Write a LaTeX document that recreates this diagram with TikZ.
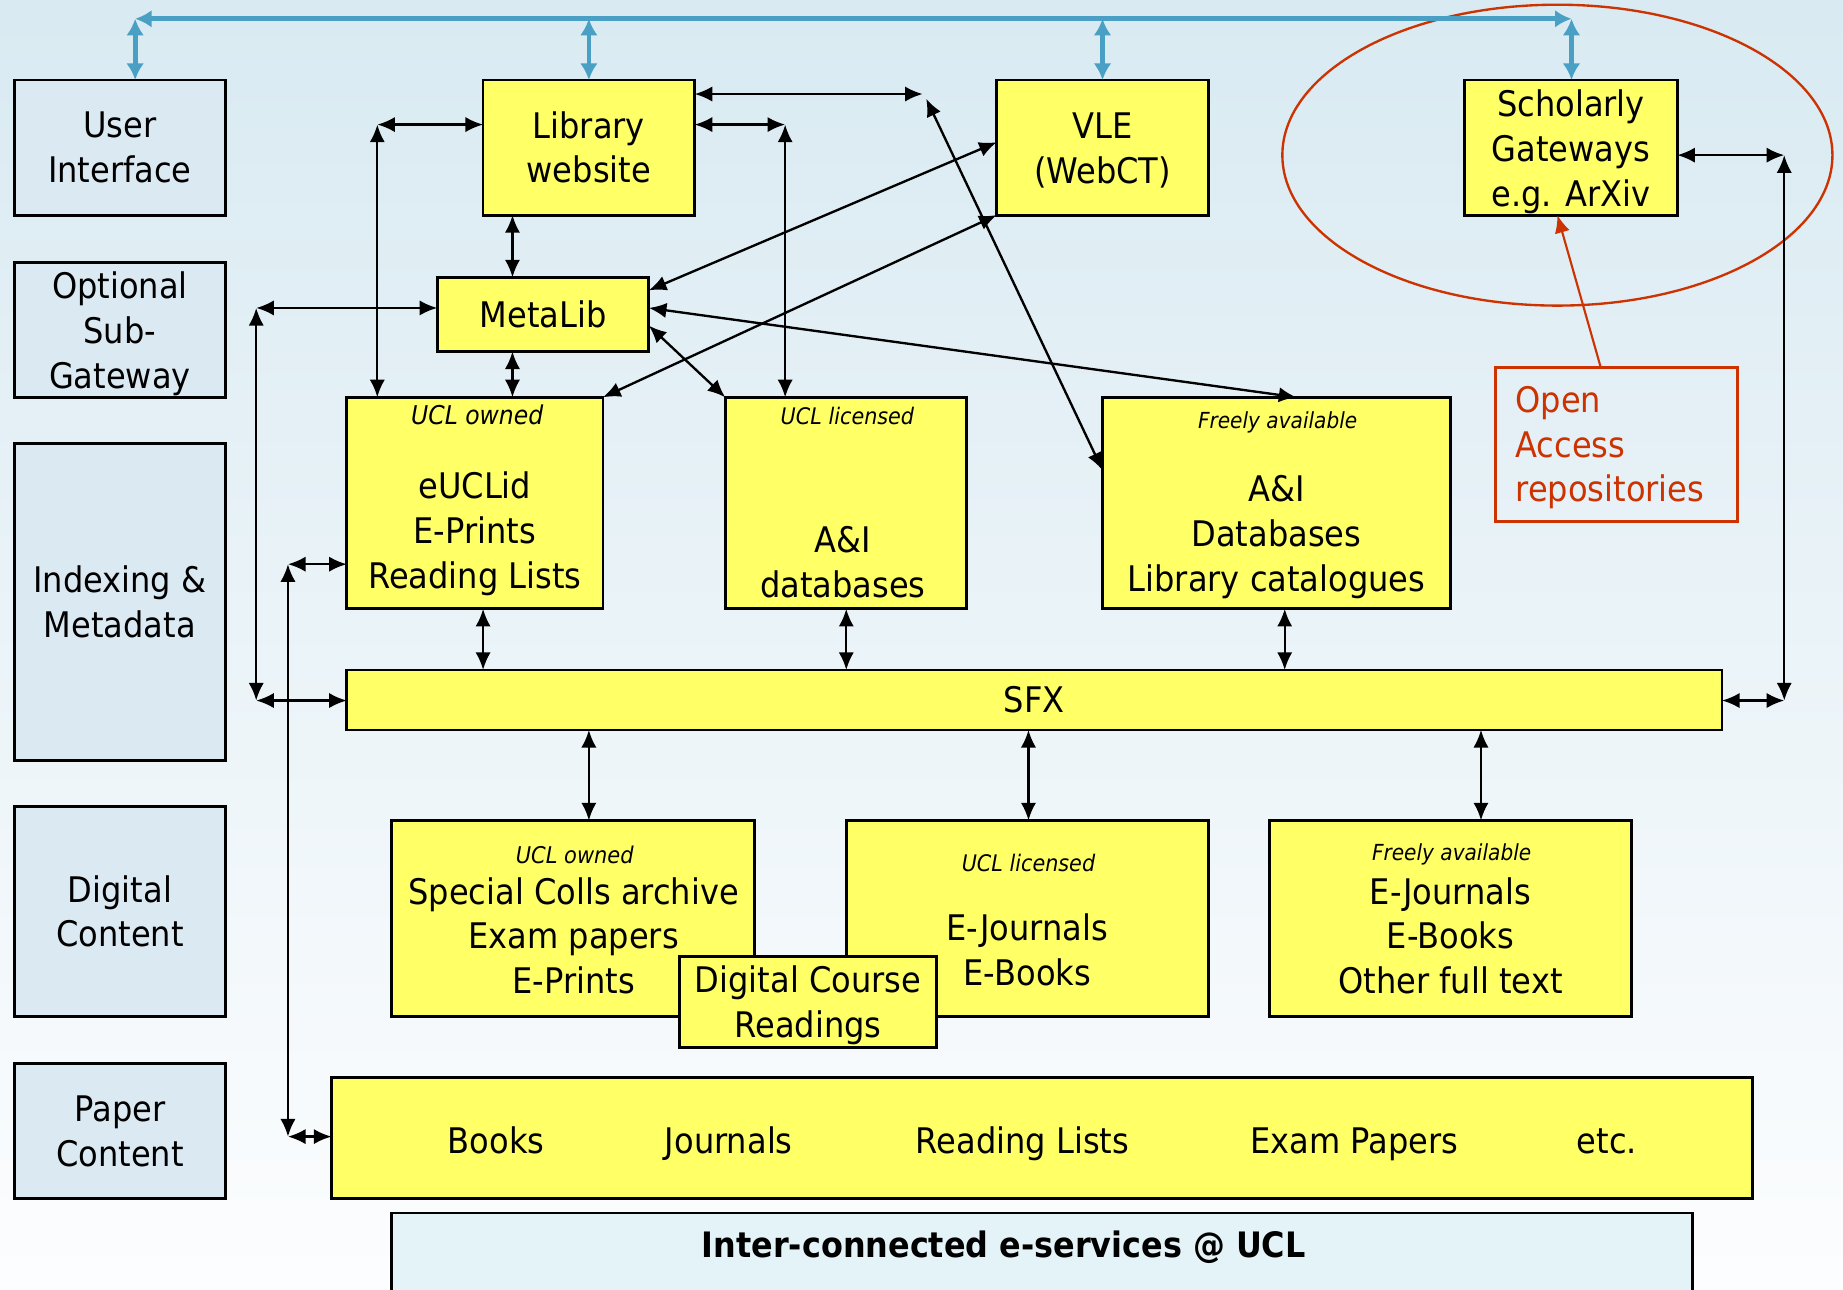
\documentclass[tikz,border=0pt]{standalone}
\usepackage{fontspec}
\setmainfont[FakeStretch=0.91]{DejaVu Sans}
\usetikzlibrary{arrows.meta,calc}
\definecolor{yel}{RGB}{255,255,102}
\definecolor{lblue}{RGB}{219,234,242}
\definecolor{tblue}{RGB}{228,243,248}
\definecolor{bgtop}{RGB}{217,234,242}
\definecolor{bgbot}{RGB}{252,253,254}
\definecolor{lineblue}{RGB}{74,160,196}
\definecolor{oared}{RGB}{204,51,0}
\newcommand\bigf{\fontsize{15pt}{19pt}\selectfont}
\newcommand\smallf{\fontsize{10pt}{12pt}\selectfont\itshape}
\newcommand\boldf{\fontsize{14.9pt}{17pt}\selectfont\bfseries}
\tikzset{
 box/.style={draw=black, line width=1.2pt, inner sep=0pt, outer sep=0pt, align=center, font=\bigf},
 lbox/.style={box, fill=lblue},
 ybox/.style={box, fill=yel},
 txt/.style={inner sep=0pt, align=center, font=\bigf},
 itl/.style={inner sep=0pt, font=\smallf},
 dar/.style={{Latex[length=7.5pt,width=6.5pt]}-{Latex[length=7.5pt,width=6.5pt]}, line width=1pt, draw=black},
 bar/.style={{Latex[length=7pt,width=7.5pt]}-{Latex[length=7pt,width=7.5pt]}, line width=2pt, draw=lineblue},
 rar/.style={-{Latex[length=7.5pt,width=6.5pt]}, line width=0.9pt, draw=oared},
}
\begin{document}
\begin{tikzpicture}[x=0.5pt,y=-0.5pt]
\useasboundingbox (0,0) rectangle (1568,1097);
\shade[top color=bgtop, bottom color=bgbot] (0,0) rectangle (1568,1097);

% left column
\node[lbox, minimum width=90pt, minimum height=57.5pt] (ui) at (102,125.5) {User\\Interface};
\node[lbox, minimum width=90pt, minimum height=57.5pt] (osg) at (102,280.5) {};
\node[txt] (osgt) at (102,284) {Optional\\Sub-\\Gateway};
\node[lbox, minimum width=90pt, minimum height=135pt] (idx) at (102,512) {Indexing \&\\Metadata};
\node[lbox, minimum width=90pt, minimum height=89.5pt] (dig) at (102,775.5) {Digital\\Content};
\node[lbox, minimum width=90pt, minimum height=57.5pt] (pap) at (102,962.5) {Paper\\Content};

% top row
\node[ybox, minimum width=90pt, minimum height=57.5pt] (lib) at (501,125.5) {Library\\website};
\node[ybox, minimum width=90pt, minimum height=57.5pt] (vle) at (938,125.5) {};
\node[txt] (vlet) at (938,128) {VLE\\(WebCT)};
\node[ybox, minimum width=90.5pt, minimum height=57.5pt] (sch) at (1336.5,125.5) {};
\node[txt] (scht) at (1336.5,129) {Scholarly\\Gateways\\e.g. ArXiv};
\node[ybox, minimum width=90pt, minimum height=31.5pt] (meta) at (462,267.5) {MetaLib};

% indexing row
\node[ybox, minimum width=109pt, minimum height=90pt] (own) at (404,428) {};
\node[itl, font=\fontsize{11pt}{12pt}\selectfont\itshape] (ownh) at (406,353) {UCL owned};
\node[txt] (ownt) at (404,454) {eUCLid\\E-Prints\\Reading Lists};
\node[ybox, minimum width=102.5pt, minimum height=90pt] (lic) at (719.5,428) {};
\node[itl, font=\fontsize{9.7pt}{12pt}\selectfont\itshape] (lich) at (721,354) {UCL licensed};
\node[txt] (lict) at (717,478) {A\&I\\databases};
\node[ybox, minimum width=148pt, minimum height=90pt] (free) at (1086,428) {};
\node[itl, font=\fontsize{9.4pt}{12pt}\selectfont\itshape] (freeh) at (1087,359) {Freely available};
\node[txt] (freet) at (1086,457) {A\&I\\Databases\\Library catalogues};

% open access
\draw[oared, line width=1pt] (1325,132) ellipse [x radius=117pt, y radius=64pt];
\node[draw=oared, line width=1.2pt, inner sep=0pt, outer sep=0pt, minimum width=103pt, minimum height=65.5pt] (oa) at (1375,378.5) {};
\node[txt, anchor=west, align=left, text=oared] (oat) at (1289,381) {Open\\Access\\repositories};

% SFX
\node[ybox, minimum width=585pt, minimum height=25.5pt] (sfx) at (880,595.5) {SFX};

% digital row
\node[ybox, minimum width=154.5pt, minimum height=83.5pt] (sc) at (487.5,781.5) {};
\node[itl, font=\fontsize{9.8pt}{12pt}\selectfont\itshape] (sch2) at (489,727) {UCL owned};
\node[txt] (sct) at (488,796) {Special Colls archive\\Exam papers\\E-Prints};
\node[ybox, minimum width=154pt, minimum height=83.5pt] (ej) at (874,781.5) {};
\node[itl, font=\fontsize{9.7pt}{12pt}\selectfont\itshape] (ejh) at (875,734) {UCL licensed};
\node[txt] (ejt) at (874,808) {E-Journals\\E-Books};
\node[ybox, minimum width=154pt, minimum height=83.5pt] (fe) at (1234,781.5) {};
\node[itl, font=\fontsize{9.4pt}{12pt}\selectfont\itshape] (feh) at (1235,727) {Freely available};
\node[txt] (fet) at (1234,796) {E-Journals\\E-Books\\Other full text};
\node[ybox, minimum width=109.5pt, minimum height=38.5pt] (dcr) at (687.5,852.5) {};
\node[txt] (dcrt) at (687.5,855) {Digital Course\\Readings};

% paper row
\node[ybox, minimum width=604.5pt, minimum height=51.5pt] (paper) at (886.5,968.5) {};
\node[txt, anchor=base] (p1) at (422,981) {Books};
\node[txt, anchor=base] (p2) at (620,981) {Journals};
\node[txt, anchor=base] (p3) at (870,981) {Reading Lists};
\node[txt, anchor=base] (p4) at (1152,981) {Exam Papers};
\node[txt, anchor=base] (p5) at (1367,981) {etc.};

% title box
\fill[tblue] (333,1032) rectangle (1440,1110);
\draw[line width=1.2pt] (333,1110) -- (333,1032) -- (1440,1032) -- (1440,1110);
\node[inner sep=0pt, font=\boldf] (title) at (854,1061) {Inter-connected e-services @ UCL};

% blue connectors
\coordinate (t1) at (115,16);
\coordinate (t2) at (1337,16);
\coordinate (t3) at (501,16);
\coordinate (t4) at (938,16);
\draw[bar] (t1) -- (t2);
\draw[bar] (t1) -- (t1 |- ui.north);
\draw[bar] (t3) -- (t3 |- lib.north);
\draw[bar] (t4) -- (t4 |- vle.north);
\draw[bar] (t2) -- (t2 |- sch.north);

% black connectors
\coordinate (k1) at (785,80);
\draw[dar] (k1 -| lib.east) -- (k1);
\coordinate (k1b) at (788,84);
\coordinate (k1c) at (0,400);
\draw[dar] (k1b) -- (k1c -| free.west);
\coordinate (k2) at (668,106);
\draw[dar] (k2 -| lib.east) -- (k2);
\draw[dar] (k2) -- (k2 |- lic.north);
\coordinate (k3) at (321,106);
\draw[dar] (k3 -| lib.west) -- (k3);
\draw[dar] (k3) -- (k3 |- own.north);
\coordinate (k4) at (436,0);
\draw[dar] (k4 |- lib.south) -- (k4 |- meta.north);
\draw[dar] (k4 |- meta.south) -- (k4 |- own.north);
\coordinate (k5) at (218,262);
\coordinate (k6) at (218,596);
\draw[dar] (k5 -| meta.west) -- (k5);
\draw[dar] (k5) -- (k6);
\draw[dar] (k6) -- (k6 -| sfx.west);
\coordinate (k7a) at (0,247);
\coordinate (k7b) at (0,121);
\draw[dar] (k7a -| meta.east) -- (k7b -| vle.west);
\draw[dar] (vle.south west) -- (own.north east);
\coordinate (k9a) at (0,262);
\coordinate (k9b) at (1103,0);
\draw[dar] (k9a -| meta.east) -- (k9b |- free.north);
\coordinate (k10) at (0,277);
\draw[dar] (k10 -| meta.east) -- (lic.north west);
\foreach \xx/\nm in {411/own, 720/lic, 1093/free}{
  \coordinate (u) at (\xx,0);
  \draw[dar] (u |- \nm.south) -- (u |- sfx.north);
}
\foreach \xx/\nm in {501/sc, 875/ej, 1260/fe}{
  \coordinate (d) at (\xx,0);
  \draw[dar] (d |- sfx.south) -- (d |- \nm.north);
}
\coordinate (k17) at (1518,132);
\coordinate (k18) at (1518,596);
\draw[dar] (k17 -| sch.east) -- (k17);
\draw[dar] (k17) -- (k18);
\draw[dar] (k18) -- (k18 -| sfx.east);
\coordinate (k19) at (245,480);
\coordinate (k20) at (245,967);
\draw[dar] (k19 -| own.west) -- (k19);
\draw[dar] (k19) -- (k20);
\draw[dar] (k20) -- (k20 -| paper.west);

% red connector
\coordinate (k21) at (1362,0);
\coordinate (k22) at (1325,0);
\draw[rar] (k21 |- oa.north) -- (k22 |- sch.south);
\end{tikzpicture}
\end{document}
